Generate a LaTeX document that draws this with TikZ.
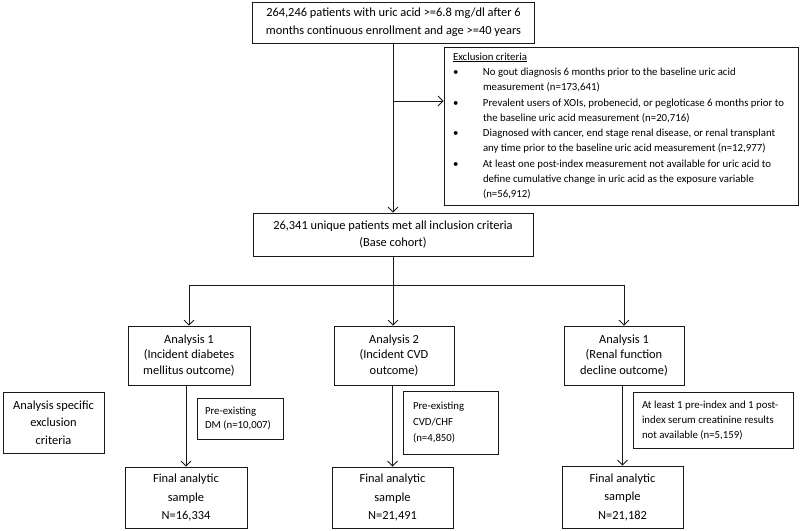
\documentclass[tikz,border=0pt]{standalone}
\usepackage{fontspec}
\setmainfont{Carlito}
\usetikzlibrary{arrows.meta}
\newcommand{\exbul}{\makebox[30pt][l]{\textbullet}}
\newcommand{\exind}{\hspace*{30pt}}
\begin{document}
\begin{tikzpicture}[x=1pt,y=-1pt,
  line width=0.8pt,
  box/.style={draw=black!90, line width=0.8pt, align=center, inner sep=0pt,
    font=\fontsize{12.4}{17.5}\selectfont},
  anbox/.style={box, font=\fontsize{12.4}{15.8}\selectfont},
  note/.style={draw=black!90, line width=0.8pt, align=flush left, inner ysep=0pt,
    font=\fontsize{10.8}{15}\selectfont},
  arr/.style={draw=black!90, line width=0.8pt, -{Straight Barb[length=5pt,width=10pt]}},
  ln/.style={draw=black!90, line width=0.8pt}]
\useasboundingbox (0,0) rectangle (800,530);

% main column
\node[box, minimum width=282pt, minimum height=41pt] (top) at (393.5,22.5)
  {264,246 patients with uric acid >=6.8 mg/dl after 6\\months continuous enrollment and age >=40 years};
\node[note, inner xsep=9pt, text width=336pt, minimum height=158pt,
  font=\fontsize{10.8}{15.3}\selectfont] (excl) at (621,126)
  {\underline{Exclusion criteria}\\
   \exbul No gout diagnosis 6 months prior to the baseline uric acid\\
   \exind measurement (n=173,641)\\
   \exbul Prevalent users of XOIs, probenecid, or pegloticase 6 months prior to\\
   \exind the baseline uric acid measurement (n=20,716)\\
   \exbul Diagnosed with cancer, end stage renal disease, or renal transplant\\
   \exind any time prior to the baseline uric acid measurement (n=12,977)\\
   \exbul At least one post-index measurement not available for uric acid to\\
   \exind define cumulative change in uric acid as the exposure variable\\
   \exind (n=56,912)};
\node[box, minimum width=280pt, minimum height=43pt] (base) at (393,234.5)
  {26,341 unique patients met all inclusion criteria\\(Base cohort)};

% analysis boxes
\node[anbox, minimum width=122pt, minimum height=59pt] (a1) at (189,355.5)
  {Analysis 1\\(Incident diabetes\\mellitus outcome)};
\node[anbox, minimum width=120pt, minimum height=59pt] (a2) at (394,355.5)
  {Analysis 2\\(Incident CVD\\outcome)};
\node[anbox, minimum width=120pt, minimum height=59pt] (a3) at (624,355.5)
  {Analysis 1\\(Renal function\\decline outcome)};

% analysis-specific exclusion
\node[box, minimum width=101pt, minimum height=61pt] (ase) at (53.5,422.5)
  {Analysis specific\\exclusion\\criteria};
\node[note, inner xsep=8pt, text width=70pt, minimum height=41pt,
  font=\fontsize{10.8}{14}\selectfont] (dm) at (240,418.5)
  {Pre-existing\\DM (n=10,007)};
\node[note, inner xsep=10pt, text width=75pt, minimum height=63pt,
  font=\fontsize{10.8}{16}\selectfont] (cvd) at (450.5,422.5)
  {Pre-existing\\CVD/CHF\\(n=4,850)};
\node[note, inner xsep=9pt, text width=142pt, minimum height=56pt,
  font=\fontsize{10.8}{15}\selectfont] (ren) at (713,420)
  {At least 1 pre-index and 1 post-\\index serum creatinine results\\not available (n=5,159)};

% final boxes
\node[box, minimum width=122pt, minimum height=61pt, font=\fontsize{12.4}{18.5}\selectfont] (f1) at (186,497.5)
  {Final analytic\\sample\\N=16,334};
\node[box, minimum width=121pt, minimum height=61pt, font=\fontsize{12.4}{18.5}\selectfont] (f2) at (392.5,497.5)
  {Final analytic\\sample\\N=21,491};
\node[box, minimum width=121pt, minimum height=62pt, font=\fontsize{12.4}{18.5}\selectfont] (f3) at (622.5,497)
  {Final analytic\\sample\\N=21,182};

% connectors
\coordinate (j1) at (393,101);
\coordinate (hub) at (393,285);
\draw[arr] (base.north |- top.south) -- (base.north);
\draw[arr] (j1) -- (j1 -| excl.west);
\draw[ln] (base.south) -- (hub);
\draw[arr] (hub) -| (a1.north);
\draw[arr] (hub) -- (hub |- a2.north);
\draw[arr] (hub) -| (a3.north);
\draw[arr] (f1.north |- a1.south) -- (f1.north);
\draw[arr] (f2.north |- a2.south) -- (f2.north);
\draw[arr] (f3.north |- a3.south) -- (f3.north);
\end{tikzpicture}
\end{document}
